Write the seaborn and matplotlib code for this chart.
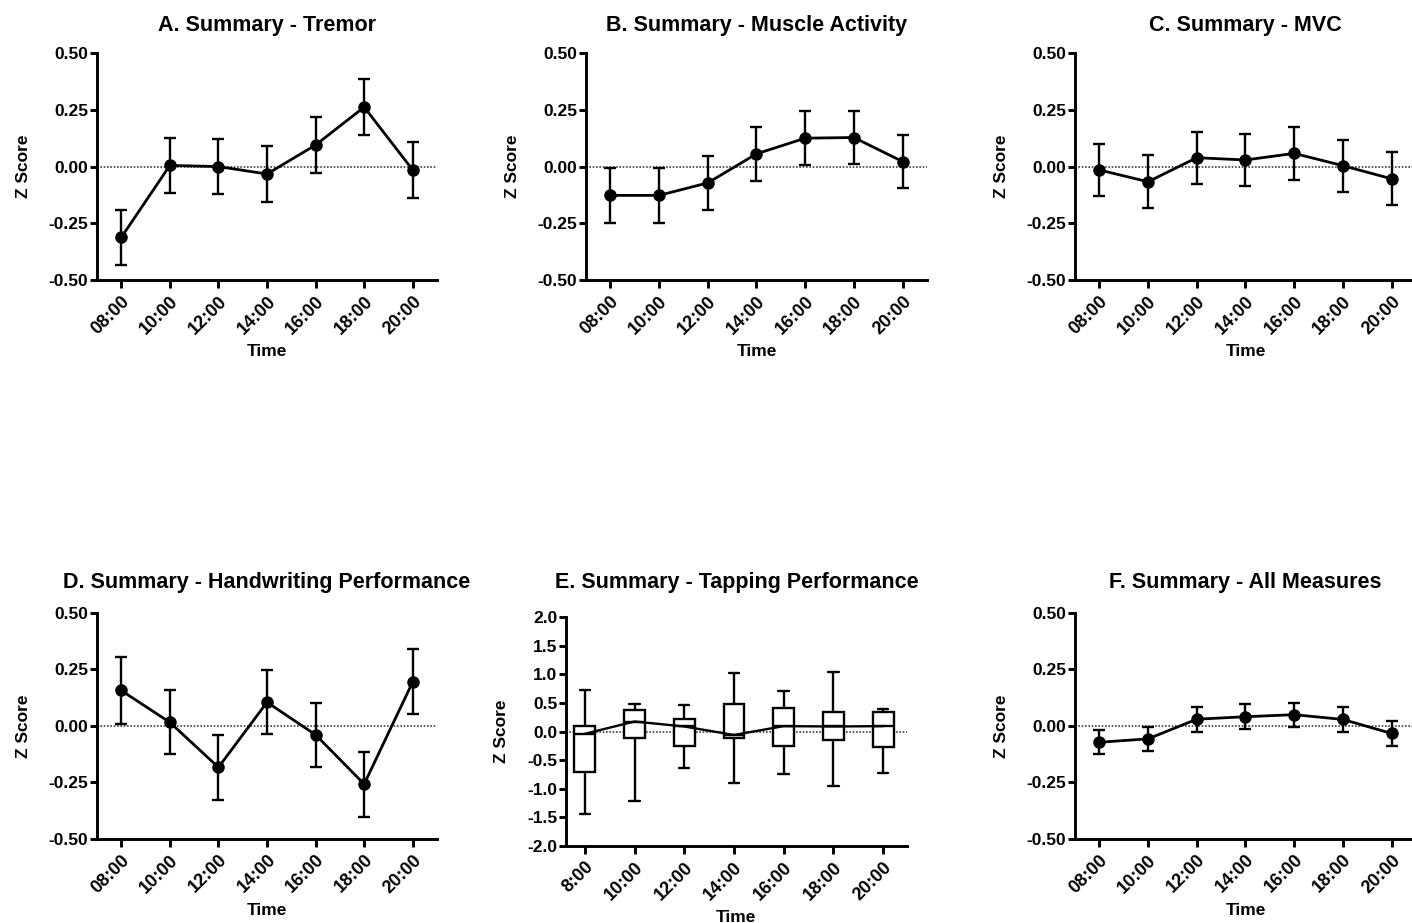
import numpy as np
import pandas as pd
import matplotlib
matplotlib.use("Agg")
import matplotlib.pyplot as plt
import seaborn as sns

# Measurement times
times = ["08:00", "10:00", "12:00", "14:00", "16:00", "18:00", "20:00"]
tap_times = ["8:00", "10:00", "12:00", "14:00", "16:00", "18:00", "20:00"]

# Mean z scores and standard errors per summary measure
tremor_mean = [-0.312, 0.005, 0.000, -0.033, 0.095, 0.262, -0.015]
tremor_sem = [0.122, 0.123, 0.120, 0.124, 0.123, 0.122, 0.122]

muscle_mean = [-0.127, -0.127, -0.072, 0.056, 0.125, 0.128, 0.022]
muscle_sem = [0.120, 0.120, 0.119, 0.119, 0.118, 0.118, 0.118]

mvc_mean = [-0.015, -0.067, 0.039, 0.029, 0.058, 0.004, -0.054]
mvc_sem = [0.115, 0.117, 0.114, 0.114, 0.116, 0.114, 0.116]

hand_mean = [0.157, 0.016, -0.183, 0.105, -0.039, -0.257, 0.195]
hand_sem = [0.150, 0.141, 0.143, 0.142, 0.142, 0.144, 0.144]

all_mean = [-0.072, -0.057, 0.030, 0.041, 0.050, 0.029, -0.033]
all_sem = [0.053, 0.054, 0.056, 0.056, 0.053, 0.055, 0.055]

# Tapping performance box summaries (whisker low, Q1, median, Q3, whisker high)
tap_low = [-1.44, -1.22, -0.64, -0.90, -0.75, -0.96, -0.72]
tap_q1 = [-0.70, -0.105, -0.25, -0.105, -0.25, -0.14, -0.275]
tap_med = [-0.04, 0.175, 0.088, -0.06, 0.094, 0.088, 0.094]
tap_q3 = [0.094, 0.38, 0.216, 0.48, 0.41, 0.345, 0.345]
tap_high = [0.73, 0.485, 0.47, 1.03, 0.71, 1.04, 0.386]

sns.set_theme(style="ticks")
plt.rcParams["font.family"] = ["Liberation Sans", "DejaVu Sans"]
plt.rcParams["font.weight"] = "bold"
plt.rcParams["axes.labelweight"] = "bold"
plt.rcParams["axes.titleweight"] = "bold"
plt.rcParams["text.color"] = "black"
plt.rcParams["axes.labelcolor"] = "black"
plt.rcParams["xtick.color"] = "black"
plt.rcParams["ytick.color"] = "black"

fig = plt.figure(figsize=(14.12, 9.23), dpi=100)

SPINE_W = 2.1


def style_axes(ax, title, pad, ylim, yticks, ylabels, xlabels, xlim):
    ax.set_xlim(*xlim)
    ax.set_ylim(*ylim)
    ax.set_yticks(yticks)
    ax.set_yticklabels(ylabels)
    ax.set_xticks(np.arange(len(xlabels)))
    ax.set_xticklabels(xlabels, rotation=45, ha="right", rotation_mode="anchor")
    for s in ("top", "right"):
        ax.spines[s].set_visible(False)
    for s in ("left", "bottom"):
        ax.spines[s].set_linewidth(SPINE_W)
        ax.spines[s].set_color("black")
    ax.tick_params(axis="y", length=5, width=SPINE_W, pad=1.2, labelsize=12.5, colors="black")
    ax.tick_params(axis="x", length=6, width=SPINE_W, pad=3, labelsize=13, colors="black")
    for lab in ax.get_xticklabels() + ax.get_yticklabels():
        lab.set_fontweight("bold")
    ax.set_title(title, fontsize=15.5, fontweight="bold", color="black", pad=pad)
    ax.set_xlabel("Time", fontsize=12.5, fontweight="bold", labelpad=5)
    ax.set_ylabel("Z Score", fontsize=12.5, fontweight="bold", labelpad=13)
    ax.axhline(0, ls=(0, (1, 1)), lw=1.2, color="0.25", zorder=1)


def mean_panel(rect, title, pad, mean, sem):
    ax = fig.add_axes(rect)
    pos = np.arange(len(times))
    df = pd.DataFrame({"pos": pos, "z": mean})
    ax.errorbar(pos, mean, yerr=sem, fmt="none", ecolor="black",
                elinewidth=1.7, capsize=4.5, capthick=1.7, zorder=2)
    sns.lineplot(data=df, x="pos", y="z", ax=ax, color="black", lw=2.0,
                 marker="o", markersize=8, markeredgecolor="black",
                 markeredgewidth=1, zorder=3)
    style_axes(ax, title, pad, (-0.5, 0.5), [-0.5, -0.25, 0, 0.25, 0.5],
               ["-0.50", "-0.25", "0.00", "0.25", "0.50"], times, (-0.5, 6.5))
    return ax


mean_panel([0.0687, 0.6966, 0.2408, 0.2459], "A. Summary - Tremor", 16, tremor_mean, tremor_sem)
mean_panel([0.4150, 0.6966, 0.2415, 0.2459], "B. Summary - Muscle Activity", 16, muscle_mean, muscle_sem)
mean_panel([0.7613, 0.6966, 0.2415, 0.2459], "C. Summary - MVC", 16, mvc_mean, mvc_sem)
mean_panel([0.0687, 0.0910, 0.2408, 0.2449], "D. Summary - Handwriting Performance", 18, hand_mean, hand_sem)
mean_panel([0.7613, 0.0910, 0.2415, 0.2449], "F. Summary - All Measures", 18, all_mean, all_sem)

# Tapping performance: box plots of per-time summaries with median trace
axE = fig.add_axes([0.4008, 0.0834, 0.2415, 0.2481])
tap_rows = []
for t, lo, q1, md, q3, hi in zip(tap_times, tap_low, tap_q1, tap_med, tap_q3, tap_high):
    for v in (lo, q1, md, q3, hi):
        tap_rows.append({"Time": t, "Z": v})
tap_df = pd.DataFrame(tap_rows)
sns.boxplot(data=tap_df, x="Time", y="Z", order=tap_times, ax=axE, whis=(0, 100),
            width=0.42, color="white", linecolor="black", linewidth=1.7,
            showfliers=False, zorder=2)
sns.lineplot(x=np.arange(len(tap_times)), y=tap_med, ax=axE, color="black", lw=1.7, zorder=3)
style_axes(axE, "E. Summary - Tapping Performance", 21, (-2.0, 2.0),
           np.arange(-2.0, 2.01, 0.5),
           ["-2.0", "-1.5", "-1.0", "-0.5", "0.0", "0.5", "1.0", "1.5", "2.0"],
           tap_times, (-0.38, 6.48))

fig.savefig("out.png", dpi=100)
